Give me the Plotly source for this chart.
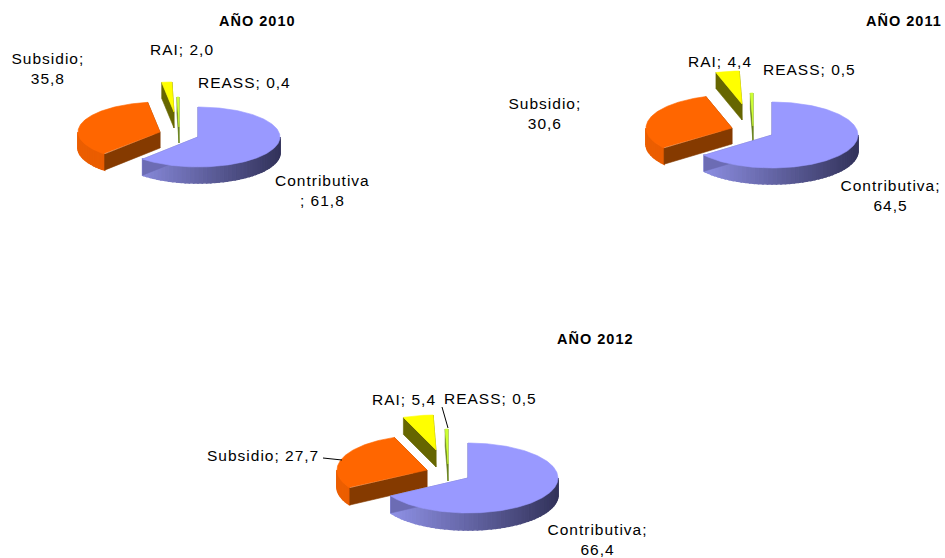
import numpy as np
import plotly.graph_objects as go

# ---- data ----
categories = ["Contributiva", "Subsidio", "RAI", "REASS"]
years = ["AÑO 2010", "AÑO 2011", "AÑO 2012"]
values_2010 = [61.8, 35.8, 2.0, 0.4]
values_2011 = [64.5, 30.6, 4.4, 0.5]
values_2012 = [66.4, 27.7, 5.4, 0.5]

# ---- layout / style ----
W, H = 945, 558
FONT = "Liberation Sans, Arial, sans-serif"
TOP = {"Contributiva": "#9999FF", "Subsidio": "#FF6600", "RAI": "#FFFF00", "REASS": "#CCFF33"}
EDGE = {"Contributiva": "#6C6CB4", "Subsidio": "#853A00", "RAI": "#666600", "REASS": "#667F1A"}
WALL_L = {"Contributiva": (150, 152, 240), "Subsidio": (236, 94, 0), "RAI": (120, 120, 0), "REASS": (110, 140, 30)}
WALL_R = {"Contributiva": (50, 50, 90), "Subsidio": (215, 84, 0), "RAI": (90, 90, 0), "REASS": (90, 110, 20)}
DRAW_ORDER = ["Subsidio", "RAI", "REASS", "Contributiva"]

PIES = [
    dict(vals=values_2010, rx=82, ry=30, depth=16,
         apex={"Contributiva": (198, 137), "Subsidio": (160, 132), "RAI": (174, 112), "REASS": (179, 127)}),
    dict(vals=values_2011, rx=86, ry=33, depth=16,
         apex={"Contributiva": (772, 135), "Subsidio": (732, 128), "RAI": (742, 104), "REASS": (753, 126)}),
    dict(vals=values_2012, rx=90, ry=35, depth=17,
         apex={"Contributiva": (468, 478), "Subsidio": (427, 470), "RAI": (436, 450), "REASS": (448, 464)}),
]

TITLES = [(257, 20), (904, 20), (595, 338)]
# (year index, category index, x, y, template)
LABELS = [
    (0, 1, 48, 68, "{n};<br>{v}"), (0, 2, 182, 49, "{n}; {v}"), (0, 3, 244, 82, "{n}; {v}"), (0, 0, 322, 190, "{n}<br>; {v}"),
    (1, 1, 545, 113, "{n};<br>{v}"), (1, 2, 720, 61, "{n}; {v}"), (1, 3, 809, 69, "{n}; {v}"), (1, 0, 890, 195, "{n};<br>{v}"),
    (2, 1, 263, 455, "{n}; {v}"), (2, 2, 404, 399, "{n}; {v}"), (2, 3, 490, 398, "{n}; {v}"), (2, 0, 597, 539, "{n};<br>{v}"),
]
LEADERS = [((323, 458), (342, 460)), ((442, 407), (448, 428))]


def poly(fig, xs, ys, color, lw=0.6):
    fig.add_trace(go.Scatter(x=xs, y=ys, mode="lines", fill="toself", fillcolor=color,
                             line=dict(color=color, width=lw), hoverinfo="skip", showlegend=False))


def rgb(a, b, t):
    return "rgb(%d,%d,%d)" % tuple(round(a[i] + (b[i] - a[i]) * t) for i in range(3))


fig = go.Figure()
for pie in PIES:
    rx, ry, d = pie["rx"], pie["ry"], pie["depth"]
    start_by_cat = dict(zip(categories, np.cumsum([0] + pie["vals"][:-1]) * 3.6))
    span_by_cat = dict(zip(categories, np.array(pie["vals"]) * 3.6))
    for cat in DRAW_ORDER:
        ax, ay = pie["apex"][cat]
        a0 = start_by_cat[cat]
        a1 = a0 + span_by_cat[cat]
        n = max(int(a1 - a0), 2)
        th = np.radians(np.linspace(a0, a1, n + 1))
        px = ax + rx * np.sin(th)
        py = ay - ry * np.cos(th)
        # outer wall, as strips shaded from left to right
        lo, hi = max(a0, 90), min(a1, 270)
        if hi > lo:
            edges = np.radians(np.arange(lo, hi + 3, 3).clip(max=hi))
            for t0, t1 in zip(edges[:-1], edges[1:]):
                x0, x1 = ax + rx * np.sin(t0), ax + rx * np.sin(t1)
                y0, y1 = ay - ry * np.cos(t0), ay - ry * np.cos(t1)
                t = 0.5 * (1 - np.sin((t0 + t1) / 2))
                poly(fig, [x0, x1, x1, x0, x0], [y0, y1, y1 + d, y0 + d, y0],
                     rgb(WALL_R[cat], WALL_L[cat], t), lw=1.6)
        # radial walls
        for tt in (th[0], th[-1]):
            ex, ey = ax + rx * np.sin(tt), ay - ry * np.cos(tt)
            poly(fig, [ax, ex, ex, ax, ax], [ay, ey, ey + d, ay + d, ay], EDGE[cat])
        # top face
        poly(fig, [ax, *px, ax], [ay, *py, ay], TOP[cat])

for ((x0, y0), (x1, y1)) in LEADERS:
    fig.add_trace(go.Scatter(x=[x0, x1], y=[y0, y1], mode="lines", line=dict(color="#000000", width=1),
                             hoverinfo="skip", showlegend=False))

annotations = []
for name, (x, y) in zip(years, TITLES):
    annotations.append(dict(x=x, y=y, text="<b>%s</b>" % name, showarrow=False,
                            font=dict(family=FONT, size=14.5, color="#000000")))
for yi, ci, x, y, tpl in LABELS:
    v = ("%.1f" % PIES[yi]["vals"][ci]).replace(".", ",")
    annotations.append(dict(x=x, y=y, text=tpl.format(n=categories[ci], v=v), showarrow=False,
                            font=dict(family=FONT, size=15.5, color="#000000")))

fig.update_layout(
    width=W, height=H, margin=dict(l=0, r=0, t=0, b=0),
    paper_bgcolor="#FFFFFF", plot_bgcolor="#FFFFFF", showlegend=False,
    xaxis=dict(range=[0, W], visible=False, fixedrange=True),
    yaxis=dict(range=[H, 0], visible=False, fixedrange=True),
    annotations=annotations,
)
fig.write_html("out.html", config={"displayModeBar": False},
               post_script="document.body.style.margin='0';document.body.style.overflow='hidden';"
                           "document.querySelectorAll('.annotation-text').forEach(function(t){t.style.letterSpacing='1px';});")
